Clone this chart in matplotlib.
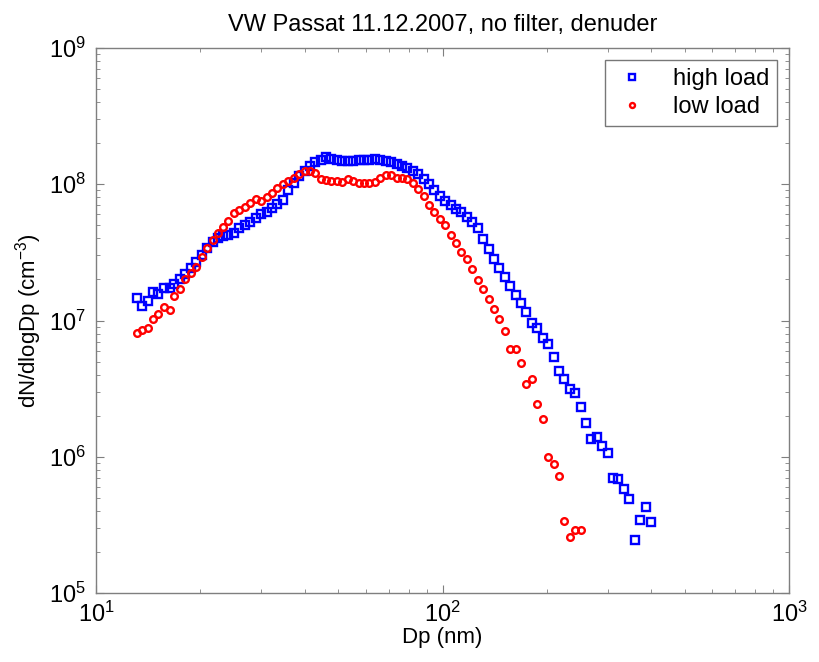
import matplotlib
matplotlib.use("Agg")
import matplotlib.pyplot as plt

plt.rcParams['font.family'] = ['Liberation Sans', 'DejaVu Sans']
plt.rcParams['mathtext.fontset'] = 'custom'
plt.rcParams['mathtext.rm'] = 'Liberation Sans'
plt.rcParams['mathtext.it'] = 'Liberation Sans:italic'
plt.rcParams['mathtext.bf'] = 'Liberation Sans:bold'

title = "VW Passat 11.12.2007, no filter, denuder"

# particle diameter channels (nm)
diameters = [13.1, 13.6, 14.1, 14.6, 15.1, 15.7, 16.3, 16.8, 17.5, 18.1,
             18.8, 19.5, 20.2, 20.9, 21.7, 22.5, 23.3, 24.1, 25.0, 25.9,
             26.9, 27.9, 28.9, 30.0, 31.1, 32.2, 33.4, 34.6, 35.9, 37.2,
             38.5, 40.0, 41.4, 42.9, 44.5, 46.1, 47.8, 49.6, 51.4, 53.3,
             55.2, 57.3, 59.4, 61.5, 63.8, 66.1, 68.5, 71.0, 73.7, 76.4,
             79.1, 82.0, 85.1, 88.2, 91.4, 94.7, 98.2, 101.8, 105.5, 109.4,
             113.4, 117.6, 121.9, 126.3, 131.0, 135.8, 140.7, 145.9, 151.2, 156.8,
             162.5, 168.5, 174.7, 181.1, 187.7, 194.6, 201.7, 209.1, 216.7, 224.7,
             232.9, 241.4, 250.3, 259.5, 269.0, 278.8, 289.0, 299.6, 310.6, 322.0,
             333.8, 346.0, 358.7, 371.8, 385.4, 399.5]

high_load = [1.46e7, 1.28e7, 1.39e7, 1.63e7, 1.56e7, 1.74e7, 1.74e7, 1.85e7, 2.01e7, 2.19e7,
             2.42e7, 2.70e7, 3.03e7, 3.42e7, 3.79e7, 4.01e7, 4.19e7, 4.24e7, 4.36e7, 4.75e7,
             5.02e7, 5.31e7, 5.62e7, 6.01e7, 6.29e7, 6.66e7, 7.13e7, 7.66e7, 9.08e7, 1.03e8,
             1.15e8, 1.26e8, 1.37e8, 1.46e8, 1.51e8, 1.58e8, 1.52e8, 1.51e8, 1.49e8, 1.49e8,
             1.49e8, 1.51e8, 1.51e8, 1.51e8, 1.52e8, 1.51e8, 1.49e8, 1.46e8, 1.41e8, 1.36e8,
             1.31e8, 1.26e8, 1.18e8, 1.09e8, 1.01e8, 9.08e7, 8.22e7, 7.54e7, 7.02e7, 6.53e7,
             6.23e7, 5.75e7, 5.26e7, 4.75e7, 3.94e7, 3.33e7, 2.81e7, 2.42e7, 2.10e7, 1.79e7,
             1.54e7, 1.35e7, 1.16e7, 9.64e6, 8.77e6, 7.40e6, 6.68e6, 5.42e6, 4.28e6, 3.74e6,
             3.13e6, 2.92e6, 2.31e6, 1.78e6, 1.34e6, 1.39e6, 1.19e6, 1.07e6, 6.95e5, 6.87e5,
             5.80e5, 4.87e5, 2.45e5, 3.43e5, 4.26e5, 3.30e5]

low_load = [8.13e6, 8.51e6, 8.77e6, 1.02e7, 1.12e7, 1.26e7, 1.19e7, 1.52e7, 1.70e7, 2.02e7,
            2.24e7, 2.48e7, 2.94e7, 3.39e7, 3.90e7, 4.41e7, 4.88e7, 5.37e7, 6.12e7, 6.47e7,
            6.84e7, 7.24e7, 7.76e7, 7.57e7, 8.10e7, 8.58e7, 9.34e7, 1.00e8, 1.05e8, 1.11e8,
            1.19e8, 1.25e8, 1.26e8, 1.20e8, 1.09e8, 1.07e8, 1.06e8, 1.06e8, 1.04e8, 1.09e8,
            1.06e8, 1.03e8, 1.02e8, 1.02e8, 1.04e8, 1.12e8, 1.16e8, 1.17e8, 1.12e8, 1.11e8,
            1.09e8, 1.02e8, 9.18e7, 8.16e7, 7.04e7, 6.26e7, 5.57e7, 5.05e7, 4.24e7, 3.71e7,
            3.20e7, 2.82e7, 2.38e7, 1.97e7, 1.69e7, 1.43e7, 1.21e7, 1.02e7, 8.41e6, 6.23e6,
            6.23e6, 4.85e6, 3.42e6, 3.70e6, 2.44e6, 1.88e6, 9.91e5, 8.81e5, 7.22e5, 3.40e5,
            2.59e5, 2.90e5, 2.90e5]

fig = plt.figure(figsize=(8.19, 6.62), dpi=100)
ax = fig.add_axes([0.1172, 0.1042, 0.8462, 0.8233])

ax.plot(diameters[:len(high_load)], high_load, linestyle='none', marker='s',
        markersize=5.2, markerfacecolor='none', markeredgecolor='#0000ff',
        markeredgewidth=1.7, label='high load')
ax.plot(diameters[:len(low_load)], low_load, linestyle='none', marker='o',
        markersize=4.8, markerfacecolor='none', markeredgecolor='#ff0000',
        markeredgewidth=1.7, label='low load')

ax.set_xscale('log')
ax.set_yscale('log')
ax.set_xlim(10, 1000)
ax.set_ylim(1e5, 1e9)

for s in ax.spines.values():
    s.set_color('#7f7f7f')
    s.set_linewidth(1.0)
ax.tick_params(which='both', direction='in', top=True, right=True, color='#7f7f7f')
ax.tick_params(which='major', length=6, labelsize=17)
ax.tick_params(axis='y', which='major', pad=7)
ax.tick_params(axis='x', which='major', pad=6)
ax.tick_params(which='minor', length=3)

ax.set_xlabel('Dp (nm)', fontsize=16, labelpad=0)
ax.set_ylabel('dN/dlogDp (cm$^{-3}$)', fontsize=16, labelpad=4)
ax.set_title(title, fontsize=17, pad=12)

leg = ax.legend(loc='upper right', fontsize=17, frameon=True, fancybox=False,
                handlelength=1.6, handletextpad=0.9, borderpad=0.35,
                labelspacing=0.25, markerscale=0.75, borderaxespad=0.5)
leg.get_frame().set_edgecolor('#555555')
leg.get_frame().set_linewidth(1.0)

fig.savefig('out.png', dpi=100)
